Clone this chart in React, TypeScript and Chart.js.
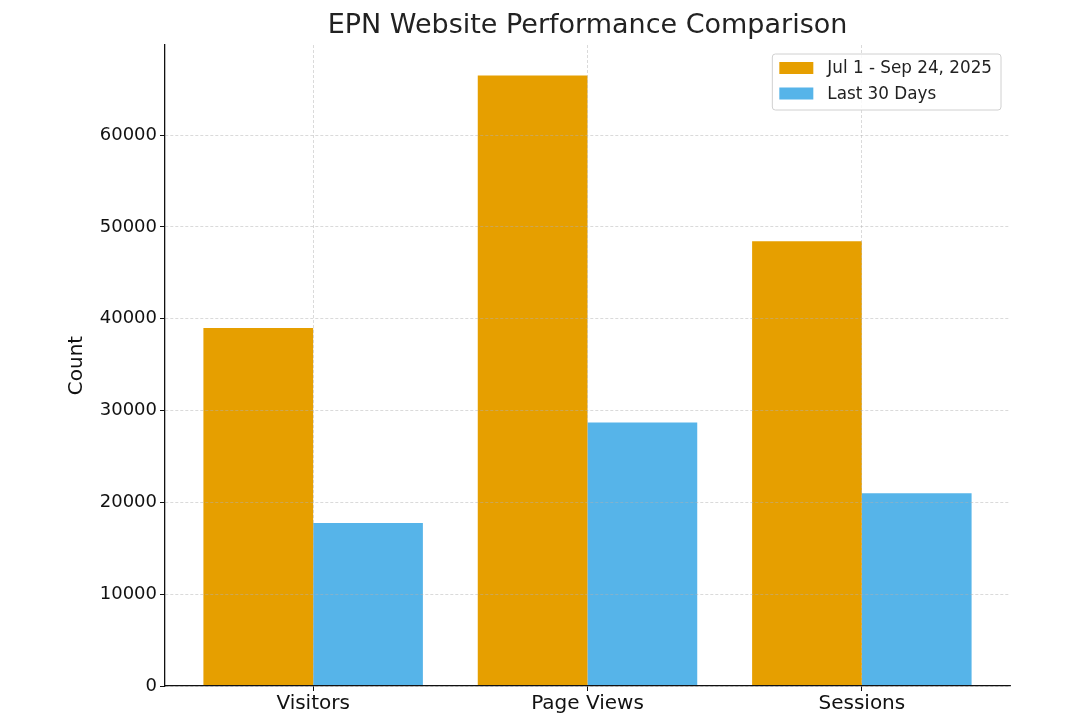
import React, { useEffect, useRef } from 'react';
import { Chart, registerables } from 'chart.js';

Chart.register(...registerables);

const categories = ['Visitors', 'Page Views', 'Sessions'];
const seriesLabels = ['Jul 1 - Sep 24, 2025', 'Last 30 Days'];
const periodValues = [39000, 66500, 48450];
const last30Values = [17750, 28700, 21000];
const yTickValues = [0, 10000, 20000, 30000, 40000, 50000, 60000];
const seriesColors = ['#E69F00', '#56B4E9'];
const chartTitle = 'EPN Website Performance Comparison';
const yAxisTitle = 'Count';

const FONT = '"DejaVu Sans", sans-serif';
const GRID = 'rgba(176,176,176,0.6)';

const overlayPlugin = {
  id: 'overlay',
  afterDraw(chart: any) {
    const ctx = chart.ctx as CanvasRenderingContext2D;
    const a = chart.chartArea;
    ctx.save();
    // title
    ctx.font = `27px ${FONT}`;
    ctx.fillStyle = '#222';
    ctx.textAlign = 'center';
    ctx.textBaseline = 'middle';
    ctx.fillText(chartTitle, (a.left + a.right) / 2, 26);

    // legend
    ctx.font = `16.8px ${FONT}`;
    const textW = Math.max(...seriesLabels.map((l) => ctx.measureText(l).width));
    const bw = 55 + textW + 9;
    const bh = 56;
    const bx = a.right - 9 - bw;
    const by = a.top + 9;
    ctx.beginPath();
    (ctx as any).roundRect(bx, by, bw, bh, 3);
    ctx.fillStyle = 'rgba(255,255,255,0.85)';
    ctx.fill();
    ctx.strokeStyle = '#d0d0d0';
    ctx.lineWidth = 1;
    ctx.stroke();
    ctx.textAlign = 'left';
    ctx.textBaseline = 'middle';
    seriesLabels.forEach((label, i) => {
      const cy = by + 14 + i * 25.5;
      ctx.fillStyle = seriesColors[i];
      ctx.fillRect(bx + 7, cy - 6, 34, 12);
      ctx.fillStyle = '#222';
      ctx.fillText(label, bx + 55, cy + 1);
    });
    ctx.restore();
  },
};

export default function App() {
  const ref = useRef<HTMLCanvasElement>(null);

  useEffect(() => {
    document.body.style.margin = '0';
    Chart.defaults.font.family = FONT;
    const canvas = ref.current!;
    const chart = new Chart(canvas, {
      type: 'bar',
      data: {
        datasets: [
          {
            label: seriesLabels[0],
            data: periodValues.map((v, i) => ({ x: i, y: v })),
            backgroundColor: seriesColors[0],
            borderWidth: 0,
            categoryPercentage: 0.8,
            barPercentage: 1.0,
          },
          {
            label: seriesLabels[1],
            data: last30Values.map((v, i) => ({ x: i, y: v })),
            backgroundColor: seriesColors[1],
            borderWidth: 0,
            categoryPercentage: 0.8,
            barPercentage: 1.0,
          },
        ],
      },
      options: {
        responsive: false,
        animation: false,
        layout: { padding: { top: 45, right: 70, left: 0, bottom: 0 } },
        plugins: {
          legend: { display: false },
          title: { display: false },
          tooltip: { enabled: false },
        },
        scales: {
          x: {
            type: 'linear',
            offset: false,
            min: -0.54,
            max: 2.54,
            afterBuildTicks: (s: any) => {
              s.ticks = categories.map((_, i) => ({ value: i }));
            },
            afterFit: (s: any) => {
              s.height = 34;
            },
            ticks: {
              callback: (v: any) => categories[v] ?? '',
              font: { size: 20 },
              color: '#111',
              padding: 1,
              maxRotation: 0,
              autoSkip: false,
            },
            grid: {
              offset: false,
              color: GRID,
              lineWidth: 0.8,
              tickColor: '#111',
              tickLength: 5,
              tickWidth: 1,
              tickBorderDash: [],
              z: 1,
            },
            border: { color: '#111', width: 1.3, dash: [3, 2], z: 2 },
          },
          y: {
            type: 'linear',
            min: 0,
            max: 69825,
            afterBuildTicks: (s: any) => {
              s.ticks = yTickValues.map((v) => ({ value: v }));
            },
            afterFit: (s: any) => {
              s.width = 165;
            },
            ticks: {
              callback: (v: any) => String(v),
              font: { size: 18 },
              color: '#111',
              padding: 3,
            },
            grid: {
              color: GRID,
              lineWidth: 0.8,
              tickColor: '#111',
              tickLength: 5,
              tickWidth: 1,
              tickBorderDash: [],
              z: 1,
            },
            border: { color: '#111', width: 1.3, dash: [3, 2], z: 2 },
            title: {
              display: true,
              text: yAxisTitle,
              font: { size: 20 },
              color: '#111',
              padding: { top: 65, bottom: 0 },
            },
          },
        },
      },
      plugins: [overlayPlugin],
    } as any);
    return () => chart.destroy();
  }, []);

  return (
    <div style={{ width: 1080, height: 720 }}>
      <canvas ref={ref} width={1080} height={720} style={{ display: 'block' }} />
    </div>
  );
}
